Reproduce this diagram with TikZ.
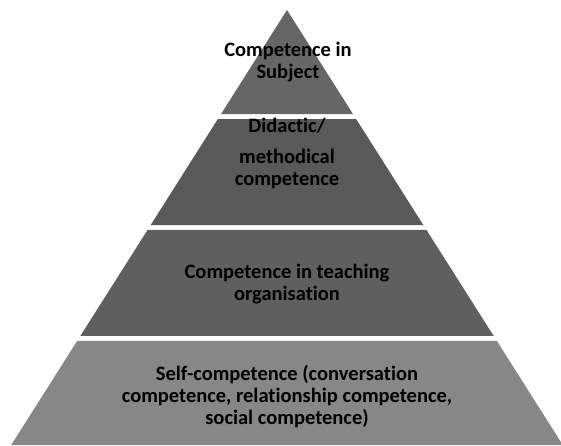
\documentclass[tikz,border=0pt]{standalone}
\usepackage{fontspec}
\setmainfont{Carlito}[Ligatures=NoCommon]
\usepackage{tikz}
\usetikzlibrary{calc, positioning}
\definecolor{layertop}{HTML}{666666}
\definecolor{layertwo}{HTML}{595959}
\definecolor{layerthree}{HTML}{5F5F5F}
\definecolor{layerbase}{HTML}{878787}
\tikzset{
    levellabel/.style={align=center, text=black, font=\fontsize{20.5}{22}\selectfont\bfseries, inner sep=0pt},
}

\begin{document}
\begin{tikzpicture}[
  x=1pt, y=1pt,
  level/.style={draw=none}
]
\clip (0,0) rectangle (561,445);
% Frame of the pyramid
\coordinate (apex) at (287,435);
\coordinate (baseL) at (11.2,0);
\coordinate (baseR) at (562.8,0);

% Top - Subject
\fill[level,layertop] (apex) -- ($(apex)!0.2391!(baseL)$) -- ($(apex)!0.2391!(baseR)$) -- cycle;
% Second - Didactic
\fill[level,layertwo] ($(apex)!0.2506!(baseL)$) -- ($(apex)!0.4943!(baseL)$) -- ($(apex)!0.4943!(baseR)$) -- ($(apex)!0.2506!(baseR)$) -- cycle;
% Third - Organisation
\fill[level,layerthree] ($(apex)!0.5057!(baseL)$) -- ($(apex)!0.7494!(baseL)$) -- ($(apex)!0.7494!(baseR)$) -- ($(apex)!0.5057!(baseR)$) -- cycle;
% Base - Self-competence
\fill[level,layerbase] ($(apex)!0.7609!(baseL)$) -- (baseL) -- (baseR) -- ($(apex)!0.7609!(baseR)$) -- cycle;

% Labels
\node[levellabel] (subject) at (288,383) {Competence in\\Subject};
\node[levellabel] (didactic) at (287,292) {Didactic/\\[9pt]methodical\\competence};
\node[levellabel] (organisation) at (287,161) {Competence in teaching\\organisation};
\node[levellabel] (self) at (287,49) {Self-competence (conversation\\competence, relationship competence,\\social competence)};
\end{tikzpicture}
\end{document}
